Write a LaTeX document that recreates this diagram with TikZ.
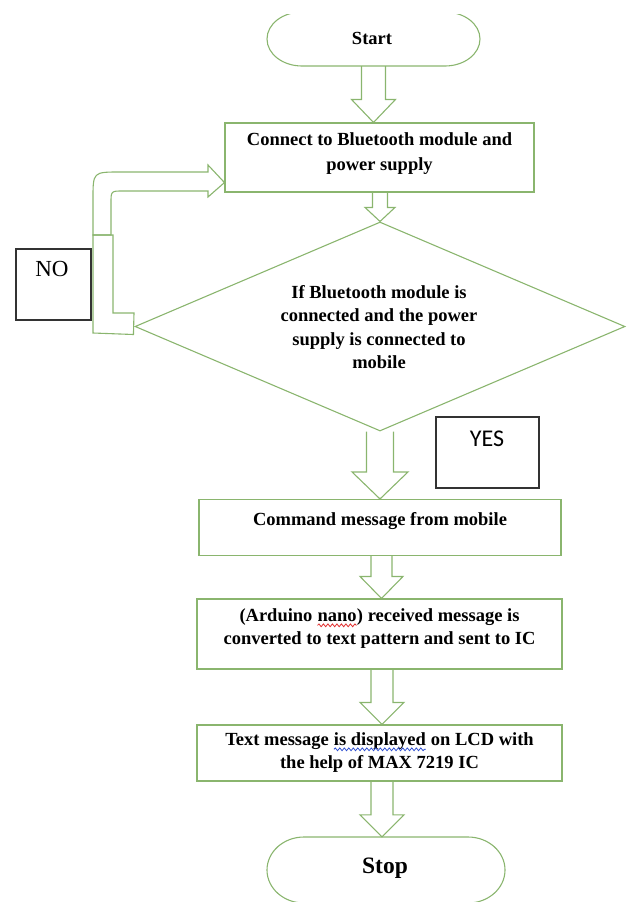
\documentclass[tikz,border=0pt]{standalone}
\usepackage{fontspec}
\setmainfont{Liberation Serif}
\newfontfamily\yesfont{Carlito}
\usetikzlibrary{shapes.geometric,calc,decorations.pathmorphing}
\definecolor{flowgreen}{HTML}{8AB56E}
\definecolor{framegray}{HTML}{333333}
\definecolor{wavered}{HTML}{E03030}
\definecolor{waveblue}{HTML}{3050D0}
% word with a wavy spell-check underline
\newcommand\wavy[3]{\tikz[baseline=(#2.base)]{\node[inner sep=0,outer sep=0] (#2) {#3};
  \draw[draw=#1,line width=0.8pt,decorate,decoration={snake,amplitude=1.4pt,segment length=4.5pt}]
   ([yshift=-4pt]#2.base west) -- ([yshift=-4pt]#2.base east);}}
% block arrow: #1 source point (its y), #2 tip point, #3 shaft half width, #4 head half width, #5 head length
\newcommand\blockarrow[5]{%
  \draw[flowline] let \p1=(#1), \p2=(#2) in
   (\x2-#3pt,\y1) -- (\x2-#3pt,\y2+#5pt) -- (\x2-#4pt,\y2+#5pt) -- (\x2,\y2)
   -- (\x2+#4pt,\y2+#5pt) -- (\x2+#3pt,\y2+#5pt) -- (\x2+#3pt,\y1);}
\begin{document}
\begin{tikzpicture}[x=1pt,y=-1pt,
  flowline/.style={draw=flowgreen,line width=1.1pt,line join=miter},
  procbox/.style={draw=flowgreen,line width=1.1pt,rectangle,inner sep=0},
  ghost/.style={rectangle,inner sep=0},
  labelbox/.style={draw=framegray,line width=1.3pt,rectangle,inner sep=0},
  lbl/.style={font=\bfseries\fontsize{18.5}{23.3}\selectfont,align=center,inner sep=0},
  ]
\useasboundingbox (0,0) rectangle (628,902);
\clip (0,0) rectangle (628,902);

% Start terminal
\node[ghost,minimum width=213,minimum height=54] (start) at (373.5,39) {};
\begin{scope}
  \clip (0,14) rectangle (628,902);
  \draw[flowline] (302,12) -- (445,12) arc[start angle=-90,end angle=90,x radius=35,y radius=27]
    -- (302,66) arc[start angle=90,end angle=270,x radius=35,y radius=27] -- cycle;
\end{scope}
\node[lbl] (starttext) at (372,38) {Start};

% Box 1
\node[procbox,minimum width=309,minimum height=69] (b1) at (379.5,157.5) {};
\node[lbl,font=\bfseries\fontsize{18.5}{25}\selectfont] (b1text) at (379.5,153.5) {Connect to Bluetooth module and\\power supply};

% Decision
\node[draw=flowgreen,line width=1.1pt,diamond,inner sep=0,minimum width=490,minimum height=209] (d) at (380,326.5) {};
\node[lbl] (dtext) at (379,327) {If Bluetooth module is\\connected and the power\\supply is connected to\\mobile};

% Box 2
\node[procbox,minimum width=362,minimum height=56] (b2) at (380,527.5) {};
\node[lbl] (b2text) at (380,521) {Command message from mobile};

% Box 3
\node[procbox,minimum width=365,minimum height=70] (b3) at (379.5,634) {};
\node[lbl] (b3text) at (379.5,628.5) {(Arduino \wavy{wavered}{nanoword}{nano}) received message is\\converted to text pattern and sent to IC};

% Box 4
\node[procbox,minimum width=365,minimum height=56] (b4) at (379.5,753) {};
\node[lbl] (b4text) at (379.5,752.5) {Text message \wavy{waveblue}{dispword}{is displayed} on LCD with\\the help of MAX 7219 IC};

% Stop terminal
\node[ghost,minimum width=238,minimum height=66] (stop) at (386,870) {};
\draw[flowline] (304,837) -- (468,837) arc[start angle=-90,end angle=90,x radius=37,y radius=33]
    -- (304,903) arc[start angle=90,end angle=270,x radius=37,y radius=33] -- cycle;
\node[lbl,font=\bfseries\fontsize{23.5}{28}\selectfont] (stoptext) at (385,868) {Stop};

% NO / YES labels
\node[labelbox,minimum width=75,minimum height=71] (nobox) at (53.5,284.5) {};
\node[inner sep=0,font=\fontsize{23}{27}\selectfont] (notext) at (52,269) {NO};
\node[labelbox,minimum width=103,minimum height=71] (yesbox) at (487.5,452.5) {};
\node[inner sep=0,font=\yesfont\fontsize{24}{28}\selectfont] (yestext) at (487,439) {YES};

% block arrows
\coordinate (a1tip) at (start.south |- b1.north);
\blockarrow{start.south}{a1tip}{12}{22}{23}
\blockarrow{b1.south}{d.north}{7.5}{15}{14}
\coordinate (a3tip) at (d.south |- b2.north);
\blockarrow{d.south}{a3tip}{13.5}{28}{27}
\coordinate (a4tip) at ($(b3.north)+(2,0)$);
\blockarrow{b2.south}{a4tip}{10.5}{21.5}{22}
\coordinate (a5tip) at ($(b4.north)+(2.5,0)$);
\blockarrow{b3.south}{a5tip}{11}{22}{22}
\coordinate (a6tip) at ($(b4.south)+(2.5,0)$);
\coordinate (a6end) at (a6tip |- stop.north);
\blockarrow{b4.south}{a6end}{11}{22}{22}

% NO loop back to box 1
\coordinate (notip) at ($(b1.south west)+(0,-10)$);
\draw[flowline] (notip) -- (208,165) -- (208,172) -- (120,172) .. controls (93,172) .. (93,199)
   -- (93,235) -- (111,235) -- (111,203) .. controls (111,191) .. (123,191)
   -- (208,191) -- (208,197) -- cycle;
\draw[flowline] (d.west) ++(-1,8) -- (93,333) -- (93,235) -- (113,235) -- (113,313) -- (134,313) -- cycle;
\end{tikzpicture}
\end{document}
